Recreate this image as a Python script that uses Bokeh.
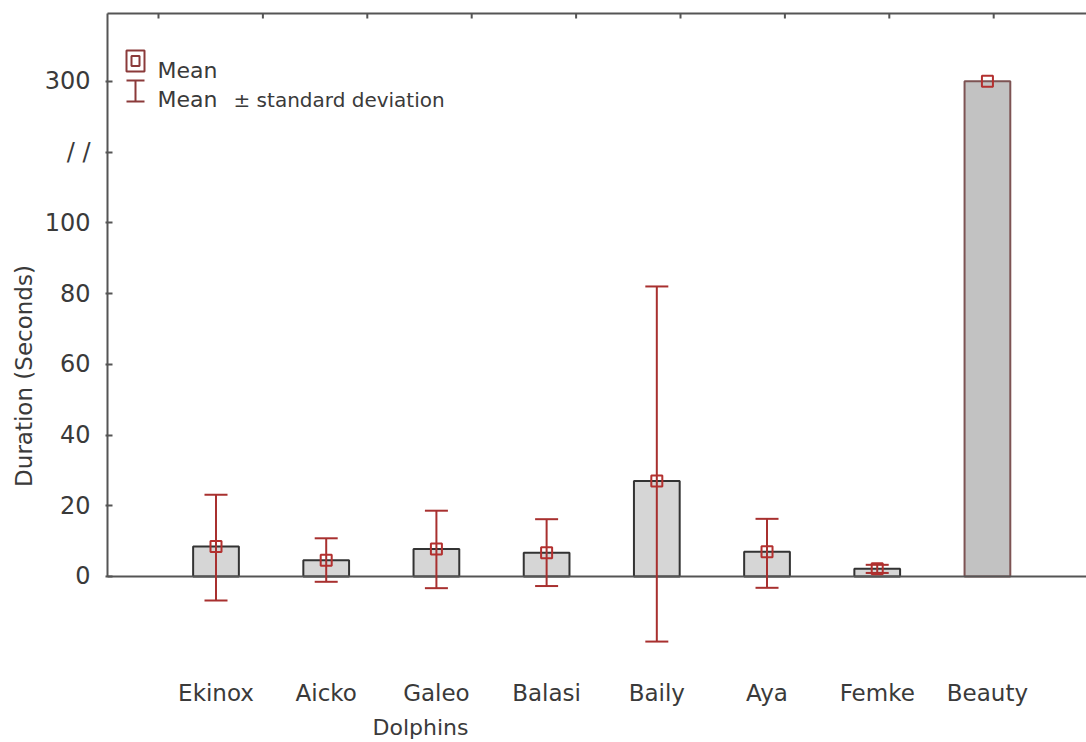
from bokeh.plotting import figure
from bokeh.models import Range1d, FixedTicker
from bokeh.core.properties import value
from bokeh.embed import file_html
from bokeh.resources import INLINE
import numpy as np

# ---------------- data ----------------
dolphins = ["Ekinox", "Aicko", "Galeo", "Balasi", "Baily", "Aya", "Femke", "Beauty"]
mean_duration = [8.5, 4.6, 7.8, 6.7, 27.0, 7.0, 2.2, 300.0]
mean_plus_sd = [23.1, 10.8, 18.6, 16.2, 82.0, 16.3, 3.3, np.nan]
mean_minus_sd = [-6.8, -1.5, -3.3, -2.7, -18.4, -3.2, 1.0, np.nan]
y_tick_values = [0, 20, 40, 60, 80, 100, 300]
y_tick_labels = ["0", "20", "40", "60", "80", "100", "300"]
break_label = "/ /"

# ---------------- broken axis mapping ----------------
LOWER_MAX = 100.0      # linear part of the axis
BREAK_POS = 120.0      # position of the "//" mark
UPPER_REF = 300.0      # value shown above the break
UPPER_POS = 140.0      # where it is drawn


def to_axis(v):
    v = np.asarray(v, dtype=float)
    return np.where(v <= LOWER_MAX, v, UPPER_POS + (v - UPPER_REF) * 0.2)


# ---------------- geometry ----------------
W, H = 1086, 740
MB_L, MB_T = 105, 11
FRAME_W = W - MB_L
FRAME_H = H - MB_T
X_START, X_END = -1.0027, 7.899
Y_START, Y_END = -46.37, 159.74


def px2x(px):  # page pixel -> data x
    return X_START + (px - MB_L) / FRAME_W * (X_END - X_START)


def py2y(py):  # page pixel -> data y
    return Y_END - (py - MB_T) / FRAME_H * (Y_END - Y_START)


FONT = value("DejaVu Sans")
TXT = "#3a3a3a"
AX = "#555555"
RED = "#a8302f"
MARK = "#b3302f"

xs = np.arange(len(dolphins), dtype=float)
means_ax = to_axis(mean_duration)
hi_ax = to_axis(mean_plus_sd)
lo_ax = to_axis(mean_minus_sd)

p = figure(width=W, height=H, output_backend="svg", toolbar_location=None,
           x_range=Range1d(X_START, X_END), y_range=Range1d(Y_START, Y_END),
           x_axis_location=None, min_border_left=MB_L, min_border_top=MB_T,
           min_border_right=0, min_border_bottom=0)
p.outline_line_color = None
p.grid.visible = False
p.background_fill_color = "white"

# top border with small ticks
top_y = py2y(13)
p.segment(x0=[px2x(107)], y0=[top_y], x1=[X_END], y1=[top_y], line_color=AX, line_width=2)
top_ticks = [px2x(158 + 104.4 * k) for k in range(9)]
p.segment(x0=top_ticks, y0=[top_y] * 9, x1=top_ticks, y1=[py2y(18)] * 9,
          line_color=AX, line_width=2)

# left axis (broken)
ya = p.yaxis[0]
ticks = list(to_axis(y_tick_values)) + [BREAK_POS]
ya.ticker = FixedTicker(ticks=ticks)
overrides = {float(t): lab for t, lab in zip(to_axis(y_tick_values), y_tick_labels)}
overrides[BREAK_POS] = break_label
ya.major_label_overrides = overrides
ya.axis_line_color = None
ya.major_tick_in = 7
ya.major_tick_out = 0
ya.major_tick_line_color = AX
ya.major_tick_line_width = 2
ya.minor_tick_line_color = None
ya.major_label_standoff = 15
ya.major_label_text_font = "DejaVu Sans"
ya.major_label_text_font_size = "24px"
ya.major_label_text_color = TXT
ya.axis_label = "Duration (Seconds)"
ya.axis_label_text_font = "DejaVu Sans"
ya.axis_label_text_font_style = "normal"
ya.axis_label_text_font_size = "23px"
ya.axis_label_text_color = TXT
ya.axis_label_standoff = 5

# left axis line from 0 up to the top
p.segment(x0=[px2x(107)], y0=[0], x1=[px2x(107)], y1=[top_y], line_color=AX, line_width=2)

# bars
fills = ["#d6d6d6"] * 7 + ["#c2c2c2"]
edges = ["#333333"] * 7 + ["#7d5353"]
p.vbar(x=xs, bottom=0, top=means_ax, width=0.415, fill_color=fills,
       line_color=edges, line_width=2)

# zero line
p.segment(x0=[px2x(107)], y0=[0], x1=[X_END], y1=[0], line_color=AX, line_width=2)

# error bars
p.segment(x0=xs, y0=lo_ax, x1=xs, y1=hi_ax, line_color=RED, line_width=2)
p.scatter(xs, hi_ax, marker="dash", size=23, line_color=RED, line_width=2)
p.scatter(xs, lo_ax, marker="dash", size=23, line_color=RED, line_width=2)

# means
p.scatter(xs, means_ax, marker="square", size=11, fill_color=None,
          line_color=MARK, line_width=2)

# category labels and x title
p.text(x=xs, y=[py2y(692)] * len(xs), text=dolphins, text_align="center",
       text_baseline="alphabetic", text_font=FONT, text_font_size="23px",
       text_color=TXT)
p.text(x=[px2x(420)], y=[py2y(727)], text=["Dolphins"], text_align="center",
       text_baseline="alphabetic", text_font=FONT, text_font_size="22px",
       text_color=TXT)

# legend (drawn by hand)
LEG = "#8b3a3a"
p.rect(x=[px2x(135)], y=[py2y(60.5)], width=18, height=21, width_units="screen",
       height_units="screen", fill_color=None, line_color=LEG, line_width=2)
p.rect(x=[px2x(135)], y=[py2y(60.5)], width=8, height=10, width_units="screen",
       height_units="screen", fill_color=None, line_color=LEG, line_width=2)
p.segment(x0=[px2x(135), px2x(126), px2x(126)], y0=[py2y(80), py2y(80), py2y(101)],
          x1=[px2x(135), px2x(144), px2x(144)], y1=[py2y(101), py2y(80), py2y(101)],
          line_color=LEG, line_width=2)
p.text(x=[px2x(157), px2x(157)], y=[py2y(70), py2y(99)], text=["Mean", "Mean"],
       text_align="left", text_baseline="alphabetic", text_font=FONT,
       text_font_size="22px", text_color=TXT)
p.text(x=[px2x(233)], y=[py2y(99)], text=["\u00b1 standard deviation"],
       text_align="left", text_baseline="alphabetic", text_font=FONT,
       text_font_size="20px", text_color=TXT)

open("out.html", "w").write(file_html(p, INLINE))
